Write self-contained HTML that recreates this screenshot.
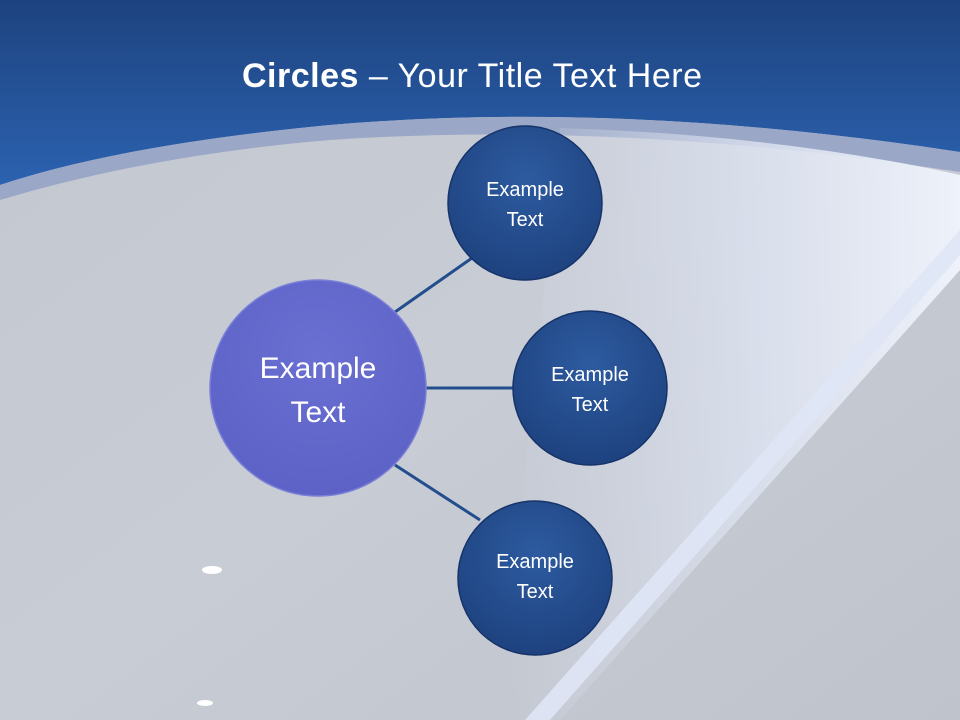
<!DOCTYPE html>
<html><head><style>
html,body{margin:0;padding:0;width:960px;height:720px;overflow:hidden}
</style></head><body>
<svg width="960" height="720" viewBox="0 0 960 720" xmlns="http://www.w3.org/2000/svg">
<defs>
<linearGradient id="top" x1="0" y1="0" x2="0" y2="1">
<stop offset="0" stop-color="#1d437f"/><stop offset="1" stop-color="#2c62b0"/>
</linearGradient>
<linearGradient id="gray" x1="0" y1="0" x2="1" y2="1">
<stop offset="0" stop-color="#c3c7cf"/><stop offset="0.5" stop-color="#c8ccd5"/><stop offset="1" stop-color="#bfc3cb"/>
</linearGradient>
<linearGradient id="lite" x1="0" y1="0" x2="1" y2="0">
<stop offset="0" stop-color="#d6ddec" stop-opacity="0"/><stop offset="0.55" stop-color="#dde3f1" stop-opacity="0.8"/><stop offset="1" stop-color="#eef2fa"/>
</linearGradient>
<radialGradient id="blue" cx="0.5" cy="0.35" r="0.65">
<stop offset="0" stop-color="#2d5ba0"/><stop offset="1" stop-color="#1e427f"/>
</radialGradient>
<radialGradient id="purp" cx="0.5" cy="0.35" r="0.65">
<stop offset="0" stop-color="#6a6fd2"/><stop offset="1" stop-color="#5d62c6"/>
</radialGradient>
</defs>
<rect width="960" height="720" fill="url(#gray)"/>
<path d="M0 0 H960 V152 Q620 100 330 125 Q120 145 0 185 Z" fill="url(#top)"/>
<path d="M0 185 Q120 145 330 125 Q620 100 960 152 V172 Q620 120 330 140 Q150 155 0 200 Z" fill="#9aa7c6"/>
<path d="M560 128 Q780 135 960 175 V270 L560 720 H500 Z" fill="url(#lite)"/>
<path d="M960 255 L550 720 H525 L960 230 Z" fill="#dfe6f5" opacity="0.9"/>
<text x="472" y="87" text-anchor="middle" font-family="Liberation Sans, sans-serif" font-size="34" fill="#fff" textLength="460"><tspan font-weight="bold">Circles</tspan> – Your Title Text Here</text>
<g stroke="#234d8c" stroke-width="3">
<line x1="395" y1="312" x2="472" y2="258"/>
<line x1="425" y1="388" x2="515" y2="388"/>
<line x1="395" y1="465" x2="480" y2="520"/>
</g>
<g stroke="#16346a" stroke-width="1.5">
<circle cx="525" cy="203" r="77" fill="url(#blue)"/>
<circle cx="590" cy="388" r="77" fill="url(#blue)"/>
<circle cx="535" cy="578" r="77" fill="url(#blue)"/>
</g>
<circle cx="318" cy="388" r="108" fill="url(#purp)" stroke="#7a7fd8" stroke-width="1.5"/>
<g font-family="Liberation Sans, sans-serif" fill="#fff" text-anchor="middle" font-size="20">
<text x="525" y="196">Example</text><text x="525" y="226">Text</text>
<text x="590" y="381">Example</text><text x="590" y="411">Text</text>
<text x="535" y="568">Example</text><text x="535" y="598">Text</text>
<text x="318" y="378" font-size="30">Example</text><text x="318" y="422" font-size="30">Text</text>
</g>
<ellipse cx="212" cy="570" rx="10" ry="4" fill="#fff"/>
<ellipse cx="205" cy="703" rx="8" ry="3" fill="#fff"/>
</svg>
</body></html>
